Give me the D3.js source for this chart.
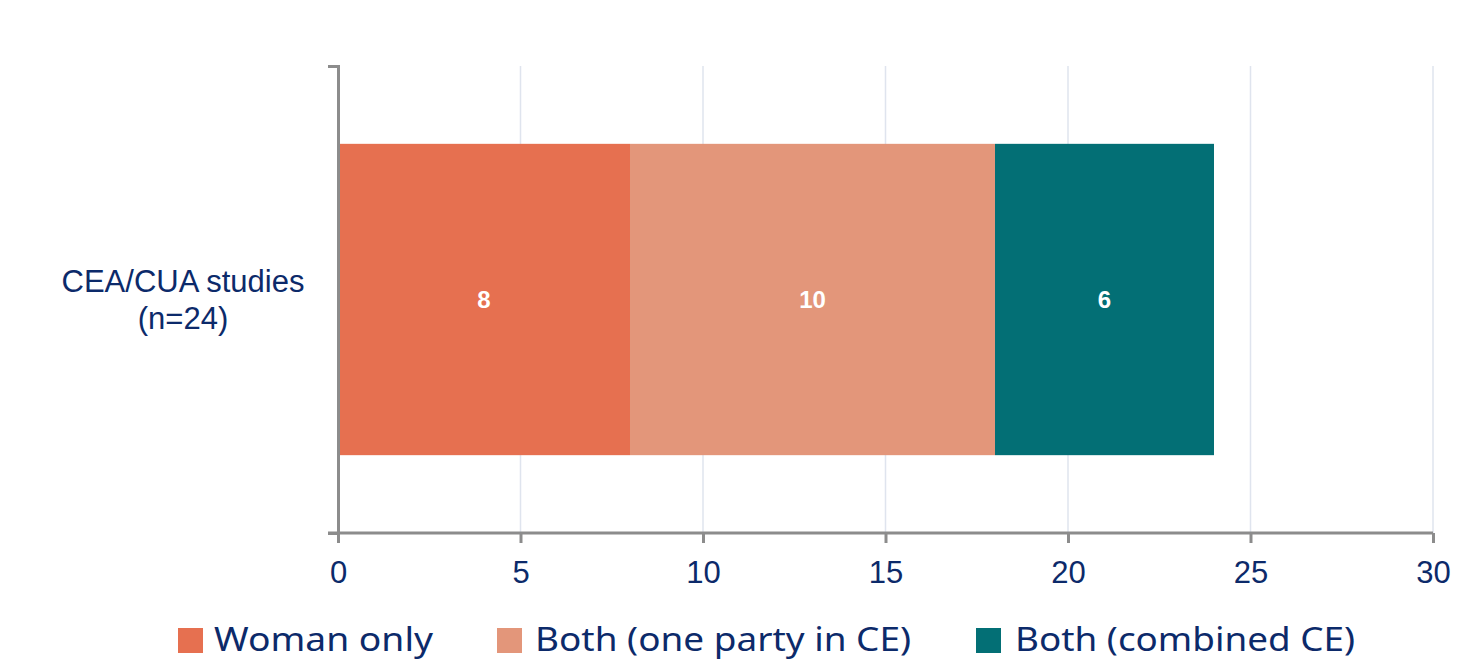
<!DOCTYPE html>
<html>
<head>
<meta charset="utf-8">
<script src="https://cdn.jsdelivr.net/npm/d3@7/dist/d3.min.js"></script>
<style>
  html, body { margin: 0; padding: 0; background: #fff; }
  svg { display: block; }
</style>
</head>
<body>
<svg id="chart" width="1461" height="659"></svg>
<script>
// Data
const categories = ["CEA/CUA studies (n=24)"];
const categoryLines = [["CEA/CUA studies", "(n=24)"]];
const seriesNames = ["Woman only", "Both (one party in CE)", "Both (combined CE)"];
const womanOnly = [8];
const bothOneParty = [10];
const bothCombined = [6];
const xTicks = [0, 5, 10, 15, 20, 25, 30];

const seriesValues = [womanOnly, bothOneParty, bothCombined];
const colors = ["#E67050", "#E3967A", "#036F75"];

const svg = d3.select("#chart");
const margin = { left: 338, right: 28, top: 66, bottom: 126 };
const W = 1461, H = 659;
const x0 = margin.left, x1 = W - margin.right;
const y0 = margin.top, y1 = H - margin.bottom;

const x = d3.scaleLinear().domain([0, 30]).range([x0, x1]);
const y = d3.scaleBand().domain(categories).range([y0, y1]).paddingInner(0.2).paddingOuter(0.2);

const axisColor = "#8c8c8c";
const textColor = "#0c2a6a";
const sans = "Liberation Sans, Arial, sans-serif";

// Vertical gridlines
svg.append("g").selectAll("line")
  .data(xTicks.filter(t => t > 0))
  .join("line")
  .attr("x1", d => x(d)).attr("x2", d => x(d))
  .attr("y1", y0).attr("y2", y1)
  .attr("stroke", "#dfe4ee").attr("stroke-width", 1.5);

// Stacked bars
const rows = categories.map((c, i) => {
  const o = { cat: c };
  seriesNames.forEach((s, j) => o[s] = seriesValues[j][i]);
  return o;
});
const stacked = d3.stack().keys(seriesNames)(rows);

const layers = svg.append("g").selectAll("g")
  .data(stacked)
  .join("g")
  .attr("fill", (d, i) => colors[i]);

layers.selectAll("rect")
  .data(d => d)
  .join("rect")
  .attr("x", d => x(d[0]))
  .attr("width", d => x(d[1]) - x(d[0]))
  .attr("y", d => y(d.data.cat))
  .attr("height", y.bandwidth());

// Value labels
layers.selectAll("text")
  .data(d => d.map(v => ({ v, key: d.key })))
  .join("text")
  .attr("x", d => (x(d.v[0]) + x(d.v[1])) / 2)
  .attr("y", d => y(d.v.data.cat) + y.bandwidth() / 2)
  .attr("dy", "0.36em")
  .attr("text-anchor", "middle")
  .attr("fill", "#fff")
  .attr("font-family", sans)
  .attr("font-weight", "bold")
  .attr("font-size", 24)
  .text(d => d.v[1] - d.v[0]);

// X axis
const xAxis = svg.append("g")
  .attr("transform", `translate(0,${y1})`)
  .call(d3.axisBottom(x).tickValues(xTicks).tickSize(10).tickSizeOuter(0));
xAxis.select(".domain").remove();
xAxis.append("line")
  .attr("x1", x0 - 10).attr("x2", x1).attr("y1", 0).attr("y2", 0)
  .attr("stroke", axisColor).attr("stroke-width", 3);
xAxis.selectAll(".tick line").attr("stroke", axisColor).attr("stroke-width", 3);
xAxis.selectAll(".tick text")
  .attr("y", 50)
  .attr("dy", null)
  .attr("fill", textColor)
  .attr("font-family", sans)
  .attr("font-size", 31);

// Y axis
const yAxis = svg.append("g")
  .attr("transform", `translate(${x0},0)`)
  .call(d3.axisLeft(y).tickSize(0).tickSizeOuter(10).tickFormat(""));
yAxis.select(".domain").attr("stroke", axisColor).attr("stroke-width", 3).attr("fill", "none");

// Category labels
categories.forEach((c, i) => {
  const cy = y(c) + y.bandwidth() / 2;
  const t = svg.append("text")
    .attr("x", 183)
    .attr("y", cy - 8)
    .attr("text-anchor", "middle")
    .attr("fill", textColor)
    .attr("font-family", sans)
    .attr("font-size", 31);
  categoryLines[i].forEach((line, k) => {
    t.append("tspan").attr("x", 183).attr("dy", k === 0 ? 0 : 37).text(line);
  });
});

// Legend
const legendItems = [
  { sx: 178, tx: 214, tw: 219 },
  { sx: 497, tx: 535, tw: 376 },
  { sx: 976, tx: 1015, tw: 340 }
];
const legend = svg.append("g");
seriesNames.forEach((name, i) => {
  const it = legendItems[i];
  legend.append("rect")
    .attr("x", it.sx).attr("y", 628)
    .attr("width", 25).attr("height", 25)
    .attr("fill", colors[i]);
  legend.append("text")
    .attr("x", it.tx).attr("y", 651)
    .attr("fill", textColor)
    .attr("font-family", "Noto Sans, Open Sans, sans-serif")
    .attr("font-size", 32)
    .attr("textLength", it.tw)
    .attr("lengthAdjust", "spacingAndGlyphs")
    .text(name);
});
</script>
</body>
</html>
